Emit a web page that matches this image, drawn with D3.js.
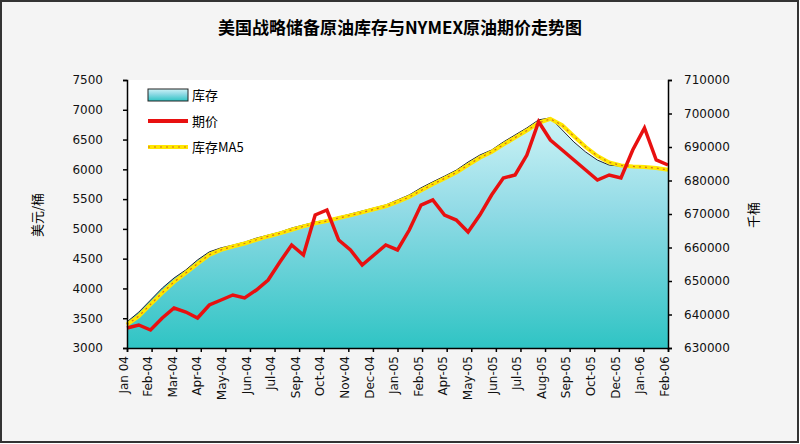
<!DOCTYPE html>
<html><head><meta charset="utf-8">
<script src="https://cdn.jsdelivr.net/npm/d3@7"></script>
<style>body{margin:0;background:#fff;font-family:"Noto Sans CJK SC","DejaVu Sans",sans-serif}</style>
</head><body><svg id="c" width="800" height="444"></svg>
<script>
const price = [3336,3386,3302,3504,3672,3604,3504,3722,3806,3890,3840,3974,4142,4444,4730,4562,5233,5317,4813,4646,4394,4562,4730,4646,4981,5400,5485,5233,5149,4948,5233,5569,5854,5905,6240,6800,6493,6325,6157,5989,5821,5905,5854,6325,6694,6157,6073]
const stock = [637800,640700,644300,647900,650900,653300,656300,658700,659900,660700,661600,662800,663700,664600,665800,666700,667600,668200,669100,670000,670900,671800,672700,674200,675700,677800,679600,681300,683100,685500,687600,689100,691500,693600,695700,698100,698700,695100,691500,688500,686100,684600,684300,684300,684000,683700,683100]
const ma5 = [637000,639500,643000,646500,649700,652400,655200,657800,659300,660300,661200,662300,663300,664200,665300,666300,667200,667900,668800,669600,670500,671400,672300,673600,675100,677000,678900,680600,682400,684600,686800,688500,690700,692800,694900,697200,698400,696500,693200,690000,687300,685400,684500,684200,684000,683700,683200]
const labels = ['Jan 04','Feb-04','Mar-04','Apr-04','May-04','Jun-04','Jul-04','Sep-04','Oct-04','Nov-04','Dec-04','Jan-05','Feb-05','Apr-05','May-05','Jun-05','Jul-05','Aug-05','Sep-05','Oct-05','Dec-05','Jan-06','Feb-06']
const leftTicks = d3.range(3000, 7501, 500)
const rightTicks = d3.range(630000, 710001, 10000)

const svg = d3.select('#c')
const L = 127, R = 668, T = 80, B = 348

svg.append('rect').attr('x', 1).attr('y', 1).attr('width', 797).attr('height', 441)
  .attr('fill', '#f4f4f4').attr('stroke', '#333').attr('stroke-width', 2)
svg.append('rect').attr('x', L).attr('y', T).attr('width', R - L).attr('height', B - T).attr('fill', '#fff')

const defs = svg.append('defs')
const g = defs.append('linearGradient').attr('id', 'ag').attr('x1', 0).attr('y1', 0).attr('x2', 0).attr('y2', 1)
g.append('stop').attr('offset', '0%').attr('stop-color', '#cdf3f6')
g.append('stop').attr('offset', '40%').attr('stop-color', '#92dbe6')
g.append('stop').attr('offset', '100%').attr('stop-color', '#2fc4c4')

const x = d3.scaleLinear().domain([0, price.length - 1]).range([L, R])
const xl = d3.scaleLinear().domain([0, labels.length - 1]).range([L, R])
const yl = d3.scaleLinear().domain([3000, 7500]).range([B, T])
const yr = d3.scaleLinear().domain([630000, 710000]).range([B, T])

svg.append('path').datum(stock)
  .attr('d', d3.area().x((d, i) => x(i)).y0(B).y1(d => yr(d)))
  .attr('fill', 'url(#ag)')
svg.append('path').datum(stock)
  .attr('d', d3.line().x((d, i) => x(i)).y(d => yr(d)))
  .attr('fill', 'none').attr('stroke', '#223').attr('stroke-width', 1)
svg.append('path').datum(ma5)
  .attr('d', d3.line().x((d, i) => x(i)).y(d => yr(d)))
  .attr('fill', 'none').attr('stroke', '#ffe600').attr('stroke-width', 4)
svg.append('path').datum(ma5)
  .attr('d', d3.line().x((d, i) => x(i)).y(d => yr(d)))
  .attr('fill', 'none').attr('stroke', '#d07020').attr('stroke-width', 1.2).attr('stroke-dasharray', '2,4')
svg.append('path').datum(price)
  .attr('d', d3.line().x((d, i) => x(i)).y(d => yl(d)))
  .attr('fill', 'none').attr('stroke', '#e81010').attr('stroke-width', 3.5)

const la = svg.append('g').attr('transform', `translate(${L},0)`)
  .call(d3.axisLeft(yl).tickValues(leftTicks).tickSize(4).tickFormat(d3.format('d')))
la.selectAll('text').attr('x', -24)
const ra = svg.append('g').attr('transform', `translate(${R},0)`)
  .call(d3.axisRight(yr).tickValues(rightTicks).tickSize(4).tickFormat(d3.format('d')))
ra.selectAll('text').attr('x', 16)
const ba = svg.append('g').attr('transform', `translate(0,${B})`)
  .call(d3.axisBottom(xl).tickValues(d3.range(labels.length)).tickSize(4).tickFormat(i => labels[i]))
ba.selectAll('text').attr('transform', 'rotate(-90)').attr('text-anchor', 'end')
  .attr('x', -8).attr('y', -4).attr('dy', '0.35em')
for (const a of [la, ra, ba]) {
  a.selectAll('text').attr('font-size', 12).attr('fill', '#111').attr('font-family', 'DejaVu Sans')
  a.selectAll('path,line').attr('stroke', '#000').attr('stroke-width', 1.5)
}

svg.append('text').attr('x', 400).attr('y', 34).attr('text-anchor', 'middle')
  .attr('font-size', 17).attr('font-weight', 'bold').text('美国战略储备原油库存与NYMEX原油期价走势图')
svg.append('text').attr('transform', 'translate(42,215) rotate(-90)').attr('text-anchor', 'middle')
  .attr('font-size', 13).text('美元/桶')
svg.append('text').attr('transform', 'translate(758,215) rotate(-90)').attr('text-anchor', 'middle')
  .attr('font-size', 13).text('千桶')

const lg = svg.append('g').attr('transform', 'translate(148,95)')
lg.append('rect').attr('x', 0).attr('y', -6).attr('width', 40).attr('height', 12)
  .attr('fill', 'url(#ag)').attr('stroke', '#222')
lg.append('line').attr('x1', 0).attr('x2', 40).attr('y1', 26).attr('y2', 26).attr('stroke', '#e81010').attr('stroke-width', 4)
lg.append('line').attr('x1', 0).attr('x2', 40).attr('y1', 52).attr('y2', 52).attr('stroke', '#ffe600').attr('stroke-width', 4)
lg.append('line').attr('x1', 0).attr('x2', 40).attr('y1', 52).attr('y2', 52).attr('stroke', '#d07020').attr('stroke-width', 1.2).attr('stroke-dasharray', '2,4')
const names = ['库存', '期价', '库存MA5']
lg.selectAll('.n').data(names).join('text').attr('x', 44).attr('y', (d, i) => i * 26 + 5)
  .attr('font-size', 13).text(d => d)
</script></body></html>
